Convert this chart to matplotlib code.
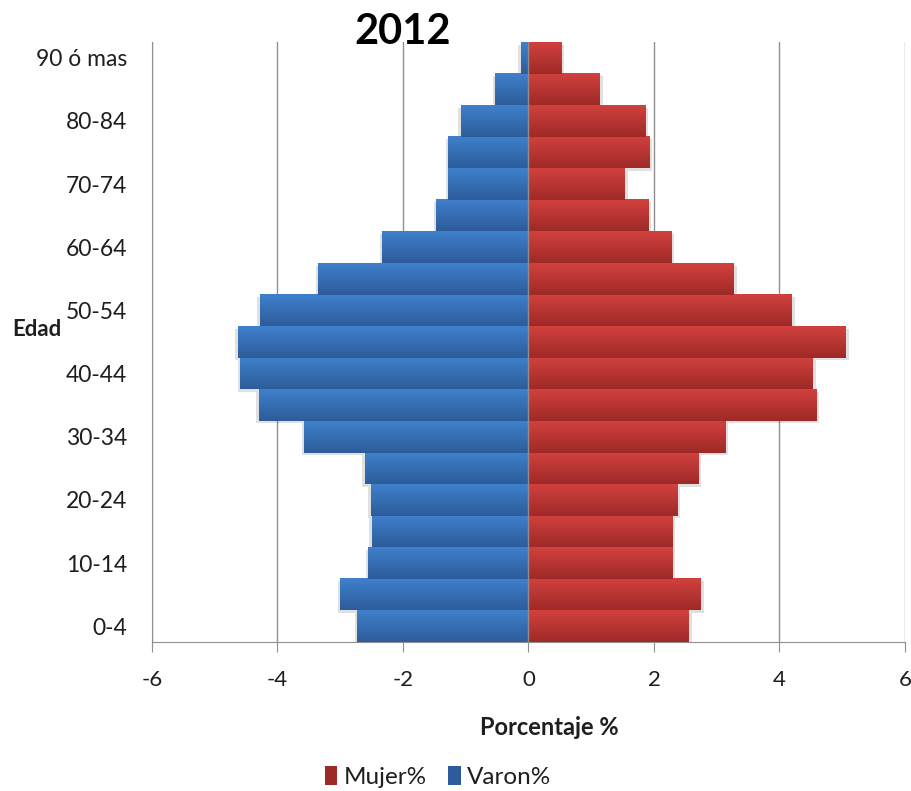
import numpy as np
import matplotlib
matplotlib.use("Agg")
import matplotlib.pyplot as plt
from matplotlib.colors import LinearSegmentedColormap
from matplotlib.patches import Patch

# age groups, bottom to top
edades = ["0-4", "5-9", "10-14", "15-19", "20-24", "25-29", "30-34", "35-39",
          "40-44", "45-49", "50-54", "55-59", "60-64", "65-69", "70-74",
          "75-79", "80-84", "85-89", "90 ó mas"]
mujer = [2.56, 2.75, 2.30, 2.30, 2.38, 2.71, 3.14, 4.59, 4.54, 5.06,
         4.20, 3.28, 2.28, 1.92, 1.54, 1.93, 1.87, 1.14, 0.53]
varon = [-2.73, -3.00, -2.55, -2.50, -2.51, -2.61, -3.57, -4.30, -4.59, -4.63,
         -4.28, -3.35, -2.33, -1.47, -1.28, -1.28, -1.08, -0.53, -0.12]
xticks = [-6, -4, -2, 0, 2, 4, 6]

FONT = ["Lato", "DejaVu Sans"]
plt.rcParams["font.family"] = FONT
plt.rcParams["axes.unicode_minus"] = False

RED_TOP, RED_BOT = "#d2413e", "#9e2a28"
BLUE_TOP, BLUE_BOT = "#3f80cc", "#2d5c9a"
GRID = "#8f8f8f"
INK = "#1e1e1e"

fig = plt.figure(figsize=(9.12, 7.91), dpi=100)
ax = fig.add_axes([152 / 912, 149 / 791, 753 / 912, 600 / 791])

y = np.arange(len(edades))
bars_m = ax.barh(y, mujer, height=1.0, color=RED_BOT, zorder=2)
bars_v = ax.barh(y, varon, height=1.0, color=BLUE_BOT, zorder=2)

# vertical gradient fill, lighter on top like the office bar style
grad = np.linspace(0, 1, 64).reshape(-1, 1)
for bars, top, bot in ((bars_m, RED_TOP, RED_BOT), (bars_v, BLUE_TOP, BLUE_BOT)):
    cmap = LinearSegmentedColormap.from_list("g", [bot, top])
    for r in bars:
        x0, y0, w, h = r.get_x(), r.get_y(), r.get_width(), r.get_height()
        ax.imshow(grad, extent=(x0, x0 + w, y0, y0 + h), origin="lower",
                  cmap=cmap, aspect="auto", zorder=2.5, interpolation="bilinear")
        # soft drop shadow
        ax.add_patch(plt.Rectangle((x0 + 0.04 * np.sign(w or 1), y0 - 0.08), w, h,
                                   color="#000000", alpha=0.12, lw=0, zorder=1.9))

ax.set_xlim(-6, 6)
ax.set_ylim(-0.5, len(edades) - 0.5)
ax.set_xticks(xticks)
ax.set_xticklabels([str(t) for t in xticks], fontsize=16, color=INK)
ax.set_yticks(y[::2])
ax.set_yticklabels(edades[::2], fontsize=16.5, color=INK)

for xv in xticks:
    ax.axvline(xv, color=GRID, lw=1.0, zorder=1)
ax.axvline(0, color=GRID, lw=1.0, zorder=3)

for s in ("top", "right"):
    ax.spines[s].set_visible(False)
ax.spines["left"].set_color(GRID)
ax.spines["bottom"].set_color(GRID)
ax.tick_params(axis="x", direction="out", length=7, color=GRID, pad=13)
ax.tick_params(axis="y", length=0, pad=18)

ax.set_xlabel("Porcentaje %", fontsize=17, fontweight="bold", color=INK)
ax.xaxis.set_label_coords(0.527, -0.123)
fig.text(12 / 912, 1 - 330 / 791, "Edad", fontsize=16, fontweight="bold",
         ha="left", va="center", color=INK)
fig.text(403 / 912, 1 - 32 / 791, "2012", fontsize=30, fontweight="bold",
         ha="center", va="center")

handles = [Patch(facecolor=RED_BOT, edgecolor="none"),
           Patch(facecolor=BLUE_BOT, edgecolor="none")]
fig.legend(handles, ["Mujer%", "Varon%"], loc="center", ncol=2,
           bbox_to_anchor=(438 / 912, 1 - 777 / 791), frameon=False,
           fontsize=17.5, handlelength=0.5, handleheight=0.8,
           handletextpad=0.25, columnspacing=0.9, labelcolor=INK)

fig.savefig("out.png", dpi=100)
